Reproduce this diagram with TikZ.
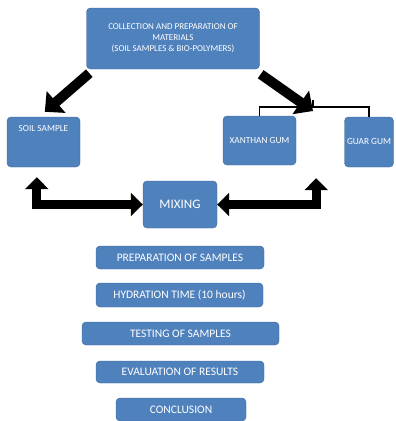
\documentclass[tikz,border=0pt]{standalone}
\usepackage{fontspec}
\setmainfont{Carlito}
\usetikzlibrary{arrows.meta}
\definecolor{boxblue}{RGB}{79,129,189}
\definecolor{boxedge}{RGB}{60,100,150}
\begin{document}
\begin{tikzpicture}[x=1pt,y=-1pt,
  box/.style={draw=boxedge,fill=boxblue,rounded corners=4pt,text=white,inner sep=1pt,align=center},
  stepbox/.style={box,font=\fontsize{11.5}{13}\selectfont},
  bigarrow/.style={line width=10pt,-{Triangle[width=28pt,length=15pt]}},
  elbowarrow/.style={line width=9pt,{Triangle[width=23pt,length=12pt]}-{Triangle[width=23pt,length=12pt]}}]
  \useasboundingbox (0,0) rectangle (396,421);
  \node[box,minimum width=173pt,minimum height=61pt,font=\fontsize{9}{11}\selectfont] (mat) at (173,38.5) {COLLECTION AND PREPARATION OF\\MATERIALS\\(SOIL SAMPLES \& BIO-POLYMERS)};
  \node[box,minimum width=73pt,minimum height=50pt,label={[font=\fontsize{9.3}{11}\selectfont,text=white,anchor=north,yshift=-5pt]north:SOIL SAMPLE}] (soil) at (43.5,142) {};
  \node[box,minimum width=73pt,minimum height=49pt,font=\fontsize{9.3}{11}\selectfont] (xan) at (259.5,140.5) {XANTHAN GUM};
  \node[box,minimum width=49pt,minimum height=50pt,font=\fontsize{9.3}{11}\selectfont] (guar) at (369,142) {GUAR GUM};
  \node[box,minimum width=74pt,minimum height=47pt,font=\fontsize{13}{15}\selectfont] (mix) at (180,204.5) {MIXING};
  \node[stepbox,minimum width=168pt,minimum height=23pt] (prep) at (180,257.5) {PREPARATION OF SAMPLES};
  \node[stepbox,minimum width=167pt,minimum height=24pt] (hyd) at (179.5,295) {HYDRATION TIME (10 hours)};
  \node[stepbox,minimum width=197pt,minimum height=23pt] (test) at (180.5,333.5) {TESTING OF SAMPLES};
  \node[stepbox,minimum width=168pt,minimum height=22pt] (eval) at (180,372) {EVALUATION OF RESULTS};
  \node[stepbox,minimum width=130pt,minimum height=23pt] (concl) at (181,409.5) {CONCLUSION};
  \coordinate (brk) at (313,107);
  \draw[bigarrow] ([shift={(3,4)}]mat.south west) -- ([shift={(38,-5)}]soil.north west);
  \draw[bigarrow] ([shift={(1,5)}]mat.south east) -- ([yshift=-4pt]brk);
  \draw[line width=1.3pt] (xan.north) |- (brk) -| (guar.north);
  \draw[line width=1.3pt] (brk) -- ++(0,-7);
  \draw[elbowarrow] ([shift={(30,10)}]soil.south west) |- (mix.west);
  \draw[elbowarrow] (mix.east) -| ([shift={(20,13)}]xan.south east);
\end{tikzpicture}
\end{document}
